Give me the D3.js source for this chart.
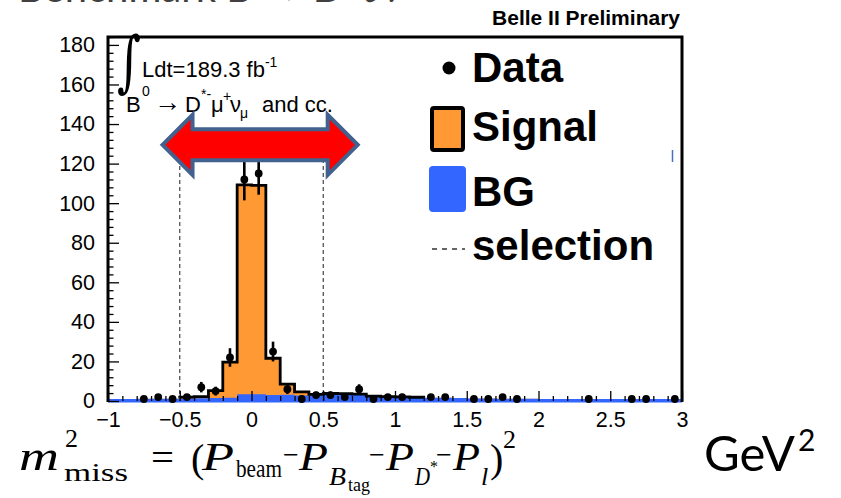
<!DOCTYPE html>
<html>
<head>
<meta charset="utf-8">
<script src="https://cdn.jsdelivr.net/npm/d3@7"></script>
<style>
  body { margin: 0; background: #fff; }
  svg { display: block; }
  .root-text { font-family: "Liberation Sans", Arial, sans-serif; }
  .tick text { font-family: "Liberation Sans", Arial, sans-serif; font-size: 21.5px; fill: #000; }
  .tick line { stroke: #000; stroke-width: 1.3; }
</style>
</head>
<body>
<svg id="chart" width="841" height="498"></svg>
<script>
// Histogram binning of m_miss^2 (GeV^2): 40 bins of 0.1 from -1 to 3
const binStart = -1;
const binWidth = 0.1;

// Stacked MC templates per bin
const bgCounts = [
  1.0, 1.0, 1.1, 1.2, 1.2, 1.3, 1.4, 1.5, 1.6, 3.4,
  3.4, 3.0, 3.2, 2.8, 3.0, 3.2, 3.4, 3.2, 2.2, 2.0,
  1.9, 1.8, 1.7, 1.6, 1.5, 1.3, 1.3, 1.2, 1.2, 1.1,
  1.0, 1.0, 1.0, 1.0, 1.0, 1.0, 1.0, 1.0, 1.0, 1.0
];
const signalCounts = [
  0, 0, 0, 0, 0, 0.7, 0.8, 3.7, 18.1, 105.9,
  105.6, 18.6, 5.3, 1.8, 0.3, 0.6, 0.3, 0.3, 0.3, 0.2,
  0.2, 0.1, 0, 0, 0, 0, 0, 0, 0, 0,
  0, 0, 0, 0, 0, 0, 0, 0, 0, 0
];

// Data points (bin centre, entries)
const dataCenters = [-0.75, -0.65, -0.55, -0.45, -0.35, -0.25, -0.15, -0.05, 0.05, 0.15,
                     0.25, 0.35, 0.45, 0.55, 0.65, 0.75, 0.85, 0.95, 1.05, 1.25,
                     1.35, 1.55, 1.65, 1.75, 1.85, 2.35, 2.65, 2.75, 2.95];
const dataCounts  = [1, 2, 1, 2, 7, 5, 22, 112, 115, 25,
                     6, 1, 3, 3, 2, 6, 1, 2, 2, 2,
                     2, 1, 1, 2, 1, 1, 1, 1, 1];

// Selection window
const selectionCuts = [-0.5, 0.5];

// Axis ticks
const xTicks = [-1, -0.5, 0, 0.5, 1, 1.5, 2, 2.5, 3];
const yTicks = [0, 20, 40, 60, 80, 100, 120, 140, 160, 180];

// Legend entries
const legendLabels = ["Data", "Signal", "BG", "selection"];

const colors = { signal: "#ff9933", bg: "#3366ff", arrow: "#ff0000", arrowEdge: "#41618f" };

const svg = d3.select("#chart");

const frame = { left: 108, right: 682, top: 37, bottom: 401 };
const x = d3.scaleLinear().domain([-1, 3]).range([frame.left, frame.right]);
const y = d3.scaleLinear().domain([0, 184]).range([frame.bottom, frame.top]);

// Bins as objects with edges and stacked values
const bins = bgCounts.map((b, i) => ({
  x0: binStart + i * binWidth,
  x1: binStart + (i + 1) * binWidth,
  bg: b,
  sig: signalCounts[i],
  total: b + signalCounts[i]
}));

// Step points (each bin contributes its two edges)
function stepPoints(accessor, subset) {
  const pts = [];
  subset.forEach(d => { pts.push([d.x0, accessor(d)]); pts.push([d.x1, accessor(d)]); });
  return pts;
}

// Bottom frame line (under the fills)
svg.append("line")
  .attr("x1", frame.left).attr("x2", frame.right)
  .attr("y1", frame.bottom).attr("y2", frame.bottom)
  .attr("stroke", "#000").attr("stroke-width", 2);

// Signal (stacked on top of BG)
const sigArea = d3.area()
  .x(p => x(p[0])).y0(p => y(p[1])).y1(p => y(p[2]));
const sigPts = [];
bins.forEach(d => { sigPts.push([d.x0, 0, d.total]); sigPts.push([d.x1, 0, d.total]); });
svg.append("path").attr("d", sigArea(sigPts)).attr("fill", colors.signal);

// BG
const bgArea = d3.area().x(p => x(p[0])).y0(y(0) + 1.5).y1(p => y(p[1]));
svg.append("path").attr("d", bgArea(stepPoints(d => d.bg, bins))).attr("fill", colors.bg);

// Signal outline where the signal template is populated
const sigBins = bins.filter(d => d.sig > 0);
const outlinePts = [[sigBins[0].x0, sigBins[0].bg], ...stepPoints(d => d.total, sigBins),
                    [sigBins[sigBins.length - 1].x1, sigBins[sigBins.length - 1].bg]];
svg.append("path")
  .attr("d", d3.line().x(p => x(p[0])).y(p => y(p[1]))(outlinePts))
  .attr("fill", "none").attr("stroke", "#000").attr("stroke-width", 2.8)
  .attr("stroke-linejoin", "miter");

// Selection lines
svg.selectAll(".cut").data(selectionCuts).join("line")
  .attr("class", "cut")
  .attr("x1", d => x(d)).attr("x2", d => x(d))
  .attr("y1", y(0)).attr("y2", y(125))
  .attr("stroke", "#444").attr("stroke-width", 1.2).attr("stroke-dasharray", "4,3");

// Data points with Poisson error bars
const pts = dataCenters.map((c, i) => ({ c, n: dataCounts[i] }));
svg.selectAll(".err").data(pts).join("line")
  .attr("class", "err")
  .attr("x1", d => x(d.c)).attr("x2", d => x(d.c))
  .attr("y1", d => y(Math.max(0, d.n - Math.sqrt(d.n))))
  .attr("y2", d => y(d.n + Math.sqrt(d.n)))
  .attr("stroke", "#000").attr("stroke-width", 2.6);
svg.selectAll(".pt").data(pts).join("circle")
  .attr("class", "pt")
  .attr("cx", d => x(d.c)).attr("cy", d => y(d.n)).attr("r", 3.9)
  .attr("fill", "#000");

// Axes: ticks drawn inside the frame, ROOT style
const fmt = d3.format("~g");
const xMinor = d3.range(-10, 31).map(v => v / 10).filter(v => !xTicks.some(t => Math.abs(t - v) < 1e-9));
const yMinor = d3.range(0, 185, 4).filter(v => v % 20 !== 0);

svg.append("g").attr("transform", `translate(0,${frame.bottom})`)
  .call(d3.axisBottom(x).tickValues(xTicks).tickFormat(fmt).tickSize(-10).tickPadding(11))
  .call(g => g.select(".domain").remove())
  .call(g => g.selectAll("text").attr("dy", "0.71em"));
svg.append("g").attr("transform", `translate(0,${frame.bottom})`)
  .call(d3.axisBottom(x).tickValues(xMinor).tickFormat("").tickSize(-5))
  .call(g => g.select(".domain").remove());

svg.append("g").attr("transform", `translate(${frame.left},0)`)
  .call(d3.axisLeft(y).tickValues(yTicks).tickFormat(fmt).tickSize(-11).tickPadding(13))
  .call(g => g.select(".domain").remove());
svg.append("g").attr("transform", `translate(${frame.left},0)`)
  .call(d3.axisLeft(y).tickValues(yMinor).tickFormat("").tickSize(-5.5))
  .call(g => g.select(".domain").remove());

// Frame (top, left, right)
svg.append("path")
  .attr("d", `M${frame.left},${frame.bottom + 1} V${frame.top} H${frame.right} V${frame.bottom + 1}`)
  .attr("fill", "none").attr("stroke", "#000").attr("stroke-width", 3);

// Stray mark near the right edge
svg.append("line").attr("x1", 672.5).attr("x2", 672.5).attr("y1", 150).attr("y2", 162)
  .attr("stroke", "#4a6fc0").attr("stroke-width", 1.5);

// Top label
svg.append("text").attr("class", "root-text")
  .attr("x", 680).attr("y", 25).attr("text-anchor", "end")
  .attr("font-size", 21).attr("font-weight", "bold").text("Belle II Preliminary");

// Luminosity and channel labels
svg.append("text").attr("x", 117).attr("y", 84)
  .attr("font-family", "DejaVu Serif").attr("font-size", 46)
  .attr("transform", `matrix(1,0,0,1.45,0,${-84 * 0.45})`)
  .text("∫");

const lumi = svg.append("text").attr("class", "root-text").attr("x", 142).attr("y", 77).attr("font-size", 22);
lumi.append("tspan").text("Ldt=189.3 fb");
lumi.append("tspan").attr("dy", -10).attr("font-size", 14).text("-1");

const chan = svg.append("g").attr("class", "root-text");
const piece = (t, px, py, fs) => chan.append("text").attr("x", px).attr("y", py).attr("font-size", fs)
  .attr("font-family", "Liberation Sans, Arial, sans-serif").text(t);
piece("B", 126, 112, 22);
piece("0", 142, 96, 14);
piece("→", 154, 111, 27);
piece("D", 185, 112, 22);
piece("*-", 201, 99, 14);
piece("μ", 211, 112, 22);
piece("+", 223, 101, 14);
piece("ν", 230, 112, 22);
piece("μ", 240, 118, 14);
piece("and cc.", 262, 112, 22);

// Legend
const lg = svg.append("g").attr("class", "root-text");
lg.append("circle").attr("cx", 449).attr("cy", 68).attr("r", 6.5).attr("fill", "#000");
lg.append("rect").attr("x", 432).attr("y", 108).attr("width", 31).attr("height", 42)
  .attr("fill", colors.signal).attr("stroke", "#000").attr("stroke-width", 4).attr("rx", 2);
lg.append("rect").attr("x", 429).attr("y", 166).attr("width", 37).attr("height", 46)
  .attr("fill", colors.bg).attr("rx", 4);
lg.append("line").attr("x1", 432).attr("x2", 465).attr("y1", 249).attr("y2", 249)
  .attr("stroke", "#333").attr("stroke-width", 1.4).attr("stroke-dasharray", "5,5");
const legendY = [82, 141, 206, 260];
lg.selectAll(".lt").data(legendLabels).join("text")
  .attr("class", "lt")
  .attr("x", 472).attr("y", (d, i) => legendY[i])
  .attr("font-size", 42).attr("font-weight", "bold").text(d => d);

// Selection window arrow
const arrowY = 129.5;          // centre line, in counts
const arrowX = [-0.62, 0.74];  // tips, in GeV^2
const ay = y(arrowY), xl = x(arrowX[0]), xr = x(arrowX[1]);
const headW = 30, headH = 30, shaftH = 15.5;
const arrowPath = [
  [xl, ay], [xl + headW, ay - headH], [xl + headW, ay - shaftH], [xr - headW, ay - shaftH],
  [xr - headW, ay - headH], [xr, ay], [xr - headW, ay + headH], [xr - headW, ay + shaftH],
  [xl + headW, ay + shaftH], [xl + headW, ay + headH]
];
svg.append("path")
  .attr("d", d3.line()(arrowPath) + "Z")
  .attr("fill", colors.arrow).attr("stroke", colors.arrowEdge).attr("stroke-width", 4)
  .attr("stroke-linejoin", "miter");

// Slide heading (runs off the top edge)
svg.append("text").attr("x", 18).attr("y", 2)
  .attr("font-family", "Lato").attr("font-size", 40).attr("fill", "#404040")
  .text("Benchmark B → D*ℓν");

// Definition of the missing mass squared
const fm = svg.append("g").attr("font-family", "Liberation Serif, Times New Roman, serif").attr("fill", "#000");
const f = (t, px, py, fs, opts = {}) => {
  const el = fm.append("text").attr("x", px).attr("y", py).attr("font-size", fs).text(t);
  if (opts.italic) el.attr("font-style", "italic");
  if (opts.w) el.attr("textLength", opts.w).attr("lengthAdjust", "spacingAndGlyphs");
  return el;
};
f("m", 19, 470, 42, { italic: true, w: 40 });
f("2", 65, 447, 26);
f("miss", 64, 481, 26, { w: 64 });
f("=", 151, 471, 40, { w: 23 });
f("(", 191, 472, 40);
f("P", 202, 470, 40, { italic: true, w: 32 });
f("beam", 236, 477, 26, { w: 46 });
f("−", 283, 464, 28);
f("P", 299, 470, 40, { italic: true, w: 29 });
f("B", 329, 485, 26, { italic: true, w: 17 });
f("tag", 348, 491, 19, { w: 22 });
f("−", 369, 464, 28);
f("P", 386, 470, 40, { italic: true, w: 28 });
f("D", 415, 485, 26, { italic: true, w: 15 });
f("*", 430, 472, 16);
f("−", 436, 464, 28);
f("P", 453, 470, 40, { italic: true, w: 27 });
f("l", 481, 485, 26, { italic: true });
f(")", 490, 472, 40);
f("2", 503, 448, 26);

const unit = svg.append("text").attr("x", 704).attr("y", 471)
  .attr("font-family", "Lato").attr("font-size", 49).attr("fill", "#000");
unit.append("tspan").text("GeV");
unit.append("tspan").attr("dx", 3).attr("dy", -20).attr("font-size", 30).text("2");
</script>
</body>
</html>
